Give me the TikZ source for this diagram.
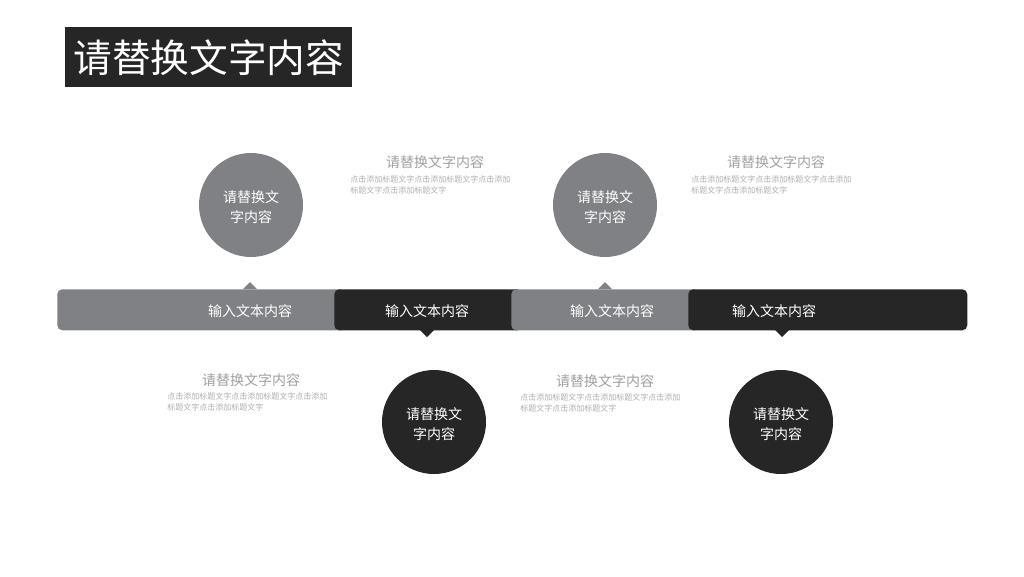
\documentclass[tikz,border=0pt]{standalone}
\usepackage{fontspec}
\setmainfont{Noto Sans CJK SC}
\definecolor{graybar}{RGB}{127,129,133}
\definecolor{darkbar}{RGB}{38,38,38}
\definecolor{headgray}{RGB}{160,160,160}
\definecolor{bodygray}{RGB}{175,175,175}
\begin{document}
\begin{tikzpicture}[x=0.75pt,y=-0.75pt,
  bar/.style={rounded corners=3.75pt, inner sep=0, minimum height=30.75pt, anchor=north west},
  barlabel/.style={text=white, font=\fontsize{10.5}{12}\selectfont, inner sep=0},
  bubble/.style={circle, minimum size=78pt, inner sep=0},
  bubbletext/.style={text=white, align=center, inner sep=0, font=\fontsize{10.5}{15}\selectfont},
  heading/.style={text=headgray, font=\fontsize{10.5}{12}\selectfont, inner sep=0},
  body/.style={text=bodygray, font=\fontsize{6}{8.25}\selectfont, inner sep=0, anchor=north west, align=left}]
\useasboundingbox[fill=white] (0,0) rectangle (1024,576);
% title
\node[fill=darkbar, text=white, minimum width=215.25pt, minimum height=45pt, inner sep=0,
      font=\fontsize{29}{32}\selectfont, anchor=north west] (title) at (65,27) {请替换文字内容};
% bars (layered)
\node[bar, fill=graybar, minimum width=216pt] (g1) at (57,289) {};
\fill[graybar] (243,289) -- (250,282) -- (257,289) -- cycle;
\node[bar, fill=darkbar, minimum width=141pt] (b1) at (334,289) {};
\fill[darkbar] (420,330) -- (427,337) -- (434,330) -- cycle;
\node[bar, fill=graybar, minimum width=141pt] (g2) at (511,289) {};
\fill[graybar] (598,289) -- (605,282) -- (612,289) -- cycle;
\node[bar, fill=darkbar, minimum width=209.25pt] (b2) at (688,289) {};
\fill[darkbar] (775,330) -- (782,337) -- (789,330) -- cycle;
% bar labels
\node[barlabel] (l1) at (250,311) {输入文本内容};
\node[barlabel] (l2) at (427,311) {输入文本内容};
\node[barlabel] (l3) at (612,311) {输入文本内容};
\node[barlabel] (l4) at (774,311) {输入文本内容};
% circles
\node[bubble, fill=graybar] (c1) at (251,205) {};
\node[bubbletext] (c1t) at (251,207) {请替换文\\字内容};
\node[bubble, fill=graybar] (c2) at (605,205) {};
\node[bubbletext] (c2t) at (605,207) {请替换文\\字内容};
\node[bubble, fill=darkbar] (c3) at (434,422) {};
\node[bubbletext] (c3t) at (434,424) {请替换文\\字内容};
\node[bubble, fill=darkbar] (c4) at (781,422) {};
\node[bubbletext] (c4t) at (781,424) {请替换文\\字内容};
% text blocks
\node[heading] (h1) at (435,162) {请替换文字内容};
\node[body] (t1) at (350,175) {点击添加标题文字点击添加标题文字点击添加\\标题文字点击添加标题文字};
\node[heading] (h2) at (776,162) {请替换文字内容};
\node[body] (t2) at (691,175) {点击添加标题文字点击添加标题文字点击添加\\标题文字点击添加标题文字};
\node[heading] (h3) at (251,380) {请替换文字内容};
\node[body] (t3) at (167,392) {点击添加标题文字点击添加标题文字点击添加\\标题文字点击添加标题文字};
\node[heading] (h4) at (605,381) {请替换文字内容};
\node[body] (t4) at (520,393) {点击添加标题文字点击添加标题文字点击添加\\标题文字点击添加标题文字};
\end{tikzpicture}
\end{document}
